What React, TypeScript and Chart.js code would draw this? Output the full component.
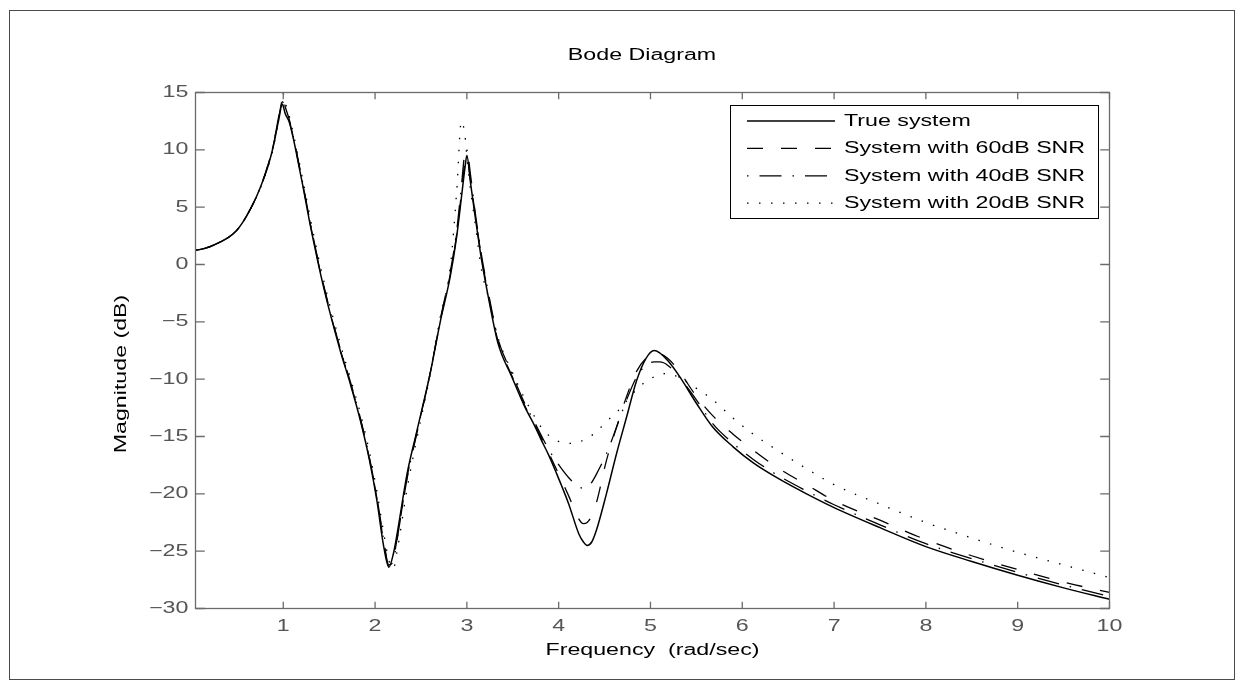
import React, { useEffect, useRef } from 'react';
import { Chart, registerables } from 'chart.js';

Chart.register(...registerables);

// ---- data ----
const freq = [
  0.044, 0.1, 0.2, 0.31, 0.4, 0.49, 0.56, 0.64, 0.71, 0.78,
  0.84, 0.89, 0.95, 0.99, 1.0, 1.02, 1.07, 1.2, 1.3, 1.44,
  1.62, 1.73, 1.84, 1.94, 2.02, 2.09, 2.15, 2.2, 2.24, 2.35,
  2.45, 2.6, 2.71, 2.82, 2.89, 2.94, 2.98, 3.0, 3.04, 3.09,
  3.16, 3.24, 3.34, 3.49, 3.63, 3.74, 3.81, 3.89, 3.96, 4.11,
  4.22, 4.27, 4.31, 4.36, 4.41, 4.52, 4.63, 4.74, 4.85, 4.95,
  5.04, 5.1, 5.19, 5.32, 5.5, 5.68, 5.9, 6.12, 6.4, 6.7,
  7.0, 7.5, 8.0, 8.5, 9.0, 9.5, 10.0,
];

const trueSystem = [
  1.25, 1.32, 1.55, 1.95, 2.35, 2.95, 3.7, 4.8, 5.95, 7.35,
  8.75, 10.25, 12.6, 14.0, 13.8, 13.2, 12.3, 7.4, 3.2, -2.0,
  -7.5, -10.4, -13.6, -17.1, -20.6, -24.4, -26.4, -25.2, -23.5, -18.2,
  -14.7, -9.5, -5.0, -1.0, 2.5, 5.8, 8.5, 9.5, 7.1, 4.2,
  0.4, -3.1, -6.9, -9.8, -12.4, -14.1, -15.3, -16.6, -17.9, -20.9,
  -23.5, -24.2, -24.5, -24.2, -23.2, -20.0, -16.5, -13.3, -10.1, -8.2,
  -7.5, -7.7, -8.4, -9.8, -12.1, -14.2, -15.9, -17.3, -18.7, -20.0,
  -21.2, -22.95, -24.6, -25.9, -27.1, -28.2, -29.2,
];

const snr60 = [
  1.25, 1.32, 1.55, 1.95, 2.35, 2.95, 3.7, 4.8, 5.95, 7.35,
  8.85, 10.35, 12.8, 14.2, 14.1, 13.5, 12.4, 7.5, 3.3, -1.9,
  -7.4, -10.3, -13.5, -17.0, -20.4, -24.0, -26.3, -25.6, -23.9, -18.5,
  -14.8, -9.5, -4.9, -0.8, 2.7, 6.2, 9.0, 9.4, 7.3, 4.4,
  0.6, -2.9, -6.7, -9.7, -12.3, -14.0, -15.1, -16.4, -17.6, -20.2,
  -22.2, -22.6, -22.5, -21.9, -20.8, -17.1, -14.2, -11.5, -9.3, -8.2,
  -7.8, -7.8, -8.2, -9.4, -11.5, -13.2, -14.8, -16.2, -17.8, -19.2,
  -20.6, -22.3, -24.0, -25.4, -26.6, -27.7, -28.6,
];

const snr40 = [
  1.25, 1.32, 1.55, 1.95, 2.35, 2.95, 3.7, 4.8, 5.95, 7.35,
  8.85, 10.35, 12.9, 14.4, 14.5, 13.8, 12.5, 7.6, 3.4, -1.8,
  -7.3, -10.2, -13.4, -16.9, -20.3, -23.8, -26.2, -25.8, -24.0, -18.6,
  -14.9, -9.5, -4.8, -0.6, 3.0, 6.8, 9.8, 10.0, 7.8, 4.6,
  0.8, -2.7, -6.5, -9.5, -12.1, -13.8, -14.9, -16.1, -17.0, -18.6,
  -19.4, -19.5, -19.4, -19.0, -18.3, -16.5, -14.2, -11.8, -9.8, -8.8,
  -8.5, -8.5, -8.8, -9.9, -11.8, -13.9, -15.6, -17.0, -18.45, -19.75,
  -20.95, -22.7, -24.35, -25.65, -26.85, -27.95, -28.95,
];

const snr20 = [
  1.25, 1.32, 1.55, 1.95, 2.35, 2.95, 3.7, 4.8, 5.9, 7.25,
  8.65, 10.1, 12.6, 14.5, 14.9, 14.2, 12.8, 7.9, 3.8, -1.4,
  -6.9, -9.9, -13.0, -16.4, -19.8, -23.2, -25.8, -26.5, -25.0, -19.5,
  -15.4, -9.6, -4.6, -0.2, 6.5, 12.5, 11.2, 9.4, 6.5, 3.6,
  -0.5, -3.0, -6.4, -9.3, -11.7, -13.3, -14.2, -14.9, -15.3, -15.6,
  -15.5, -15.3, -15.1, -14.9, -14.6, -13.7, -12.9, -11.9, -10.9, -10.2,
  -9.8, -9.6, -9.5, -9.9, -10.8, -11.8, -13.4, -14.8, -16.3, -17.8,
  -19.2, -20.9, -22.5, -23.85, -25.1, -26.2, -27.3,
];

const seriesLabels = [
  'True system',
  'System with 60dB SNR',
  'System with 40dB SNR',
  'System with 20dB SNR',
];

const chartTitle = 'Bode Diagram';
const xAxisTitle = 'Frequency  (rad/sec)';
const yAxisTitle = 'Magnitude (dB)';

const xTicks = [1, 2, 3, 4, 5, 6, 7, 8, 9, 10];
const yTicks = [-30, -25, -20, -15, -10, -5, 0, 5, 10, 15];

const FONT = '"Liberation Sans", Arial, Helvetica, sans-serif';
const WIDE = 1.45; // glyphs in the reference are horizontally wide

const fmtTick = (v: number) => (v < 0 ? '\u2212' + Math.abs(v) : String(v));

const matlabPlugin = {
  id: 'matlabLook',
  beforeDraw(chart: any) {
    const ctx: any = chart.ctx;
    if (!ctx.__wide) {
      const orig = ctx.fillText;
      ctx.fillText = function (text: string, x: number, y: number) {
        this.save();
        this.translate(x, y);
        this.scale(WIDE, 1);
        orig.call(this, text, 0, 0);
        this.restore();
      };
      ctx.__wide = true;
    }
    ctx.save();
    ctx.fillStyle = '#ffffff';
    ctx.fillRect(0, 0, chart.width, chart.height);
    ctx.restore();
  },
  afterDatasetsDraw(chart: any) {
    const ctx = chart.ctx;
    const a = chart.chartArea;
    const xs = chart.scales.x;
    const ys = chart.scales.y;
    ctx.save();
    // axes box
    ctx.setLineDash([]);
    ctx.strokeStyle = '#6b6b6b';
    ctx.lineWidth = 1.3;
    ctx.strokeRect(a.left, a.top, a.right - a.left, a.bottom - a.top);
    // inward ticks
    ctx.beginPath();
    for (const v of xTicks) {
      const px = xs.getPixelForValue(v);
      ctx.moveTo(px, a.bottom);
      ctx.lineTo(px, a.bottom - 6.7);
      ctx.moveTo(px, a.top);
      ctx.lineTo(px, a.top + 6.7);
    }
    for (const v of yTicks) {
      const py = ys.getPixelForValue(v);
      ctx.moveTo(a.left, py);
      ctx.lineTo(a.left + 9.3, py);
      ctx.moveTo(a.right, py);
      ctx.lineTo(a.right - 9.3, py);
    }
    ctx.stroke();

    // title and y label
    ctx.fillStyle = '#000000';
    ctx.font = `16px ${FONT}`;
    ctx.textAlign = 'center';
    ctx.textBaseline = 'middle';
    ctx.fillText(chartTitle, 642, 56);
    ctx.save();
    ctx.translate(122, 374);
    ctx.rotate(-Math.PI / 2);
    ctx.fillText(yAxisTitle, 0, 0);
    ctx.restore();

    // legend
    const lx = 730.5, ly = 105.5, lw = 368, lh = 113;
    ctx.fillStyle = '#ffffff';
    ctx.fillRect(lx, ly, lw, lh);
    ctx.strokeStyle = '#000000';
    ctx.lineWidth = 1;
    ctx.strokeRect(lx, ly, lw, lh);
    chart.data.datasets.forEach((ds: any, i: number) => {
      const yy = 121 + i * 27.4;
      ctx.save();
      ctx.strokeStyle = ds.borderColor;
      ctx.lineWidth = ds.borderWidth;
      ctx.setLineDash(ds.borderDash || []);
      ctx.beginPath();
      ctx.moveTo(747, yy);
      ctx.lineTo(835, yy);
      ctx.stroke();
      ctx.restore();
      ctx.fillStyle = '#000000';
      ctx.font = `16px ${FONT}`;
      ctx.textAlign = 'left';
      ctx.textBaseline = 'middle';
      ctx.fillText(ds.label, 844, yy + 0.5);
    });

    // outer figure frame
    ctx.strokeStyle = '#4a4a4a';
    ctx.lineWidth = 1;
    ctx.strokeRect(9.5, 10.5, 1225, 669);
    ctx.restore();
  },
};

export default function App() {
  const ref = useRef<HTMLCanvasElement | null>(null);

  useEffect(() => {
    if (!ref.current) return;
    const mk = (vals: number[]) => freq.map((f, i) => ({ x: f, y: vals[i] }));
    const base = {
      pointRadius: 0,
      fill: false,
      borderColor: '#000000',
      cubicInterpolationMode: 'monotone' as const,
    };
    const chart = new Chart(ref.current, {
      type: 'line',
      data: {
        datasets: [
          { ...base, label: seriesLabels[0], data: mk(trueSystem), borderWidth: 1.5, borderDash: [] },
          { ...base, label: seriesLabels[1], data: mk(snr60), borderWidth: 1.3, borderDash: [16, 18] },
          { ...base, label: seriesLabels[2], data: mk(snr40), borderWidth: 1.3, borderDash: [1.5, 11, 22, 11] },
          { ...base, label: seriesLabels[3], data: mk(snr20), borderWidth: 1.3, borderDash: [1.5, 10.5] },
        ],
      },
      options: {
        responsive: false,
        devicePixelRatio: 1,
        animation: false,
        events: [],
        layout: { padding: { left: 0, right: 135.5, top: 92.5, bottom: 0 } },
        plugins: {
          legend: { display: false },
          tooltip: { enabled: false },
          title: { display: false },
        },
        scales: {
          x: {
            type: 'linear',
            min: 0.044,
            max: 10,
            grid: { display: false, drawTicks: false },
            border: { display: false },
            afterBuildTicks: (s: any) => {
              s.ticks = xTicks.map((v) => ({ value: v }));
            },
            afterFit: (s: any) => {
              s.height = 82.5;
            },
            ticks: {
              autoSkip: false,
              maxRotation: 0,
              padding: 8,
              color: '#555555',
              font: { family: FONT, size: 16 },
              callback: (v: any) => fmtTick(Number(v)),
            },
            title: {
              display: true,
              text: xAxisTitle,
              color: '#000000',
              font: { family: FONT, size: 16 },
              padding: { top: 0, bottom: 30.4 },
            },
          },
          y: {
            type: 'linear',
            min: -30,
            max: 15,
            grid: { display: false, drawTicks: false },
            border: { display: false },
            afterBuildTicks: (s: any) => {
              s.ticks = yTicks.map((v) => ({ value: v }));
            },
            afterFit: (s: any) => {
              s.width = 195.5;
            },
            ticks: {
              padding: 7.2,
              color: '#555555',
              font: { family: FONT, size: 16 },
              callback: (v: any) => fmtTick(Number(v)),
            },
            title: { display: false },
          },
        },
      } as any,
      plugins: [matlabPlugin],
    });
    return () => chart.destroy();
  }, []);

  return (
    <div style={{ position: 'fixed', left: 0, top: 0, width: 1245, height: 691, background: '#fff' }}>
      <canvas ref={ref} width={1245} height={691} style={{ display: 'block' }} />
    </div>
  );
}
